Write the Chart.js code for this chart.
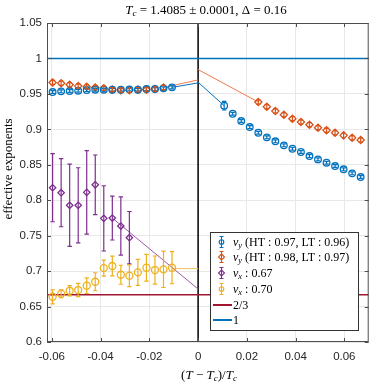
<!DOCTYPE html>
<html>
<head>
<meta charset="utf-8">
<script src="https://cdn.jsdelivr.net/npm/chart.js@4/dist/chart.umd.min.js"></script>
<style>
  body { margin: 0; background: #fff; }
  #wrap { width: 374px; height: 383px; }
</style>
</head>
<body>
<div id="wrap"><canvas id="myExponents" width="374" height="383"></canvas></div>
<script>
// reduced temperature (T - Tc)/Tc, below and above Tc
const tLeft = [-0.0597, -0.0562, -0.0527, -0.0492, -0.0457, -0.0422, -0.0387, -0.0352, -0.0317, -0.0282, -0.0247, -0.0212, -0.0177, -0.0142, -0.0107];
const tRight = [0.0107, 0.0142, 0.0177, 0.0212, 0.0247, 0.0282, 0.0317, 0.0352, 0.0387, 0.0422, 0.0457, 0.0492, 0.0527, 0.0562, 0.0597, 0.0632, 0.0667];

// nu_y (HT : 0.97, LT : 0.96)
const nuyBlueLeft = [0.9526, 0.9536, 0.954, 0.9545, 0.9554, 0.9559, 0.9559, 0.9559, 0.9559, 0.9564, 0.9559, 0.9568, 0.9568, 0.9578, 0.9592];
const nuyBlueRight = [0.9333, 0.922, 0.9117, 0.9032, 0.8952, 0.8887, 0.8831, 0.8774, 0.8726, 0.868, 0.8623, 0.8576, 0.8529, 0.8482, 0.8436, 0.8379, 0.8327];
const nuyBlueErrLeft = [0.002, 0.002, 0.002, 0.002, 0.002, 0.002, 0.002, 0.002, 0.002, 0.002, 0.002, 0.002, 0.002, 0.002, 0.002];
const nuyBlueErrRight = [0.006, 0.002, 0.002, 0.002, 0.002, 0.002, 0.002, 0.002, 0.002, 0.002, 0.002, 0.002, 0.002, 0.002, 0.002, 0.002, 0.002];

// nu_y (HT : 0.98, LT : 0.97)
const nuyOrangeLeft = [0.966, 0.965, 0.963, 0.961, 0.960, 0.959, 0.958, 0.956, 0.955, 0.955, 0.956, 0.956, 0.957, 0.959];
const nuyOrangeRight = [0.9385, 0.9319, 0.9258, 0.9206, 0.915, 0.9103, 0.9065, 0.9023, 0.8986, 0.8952, 0.8915, 0.8881, 0.8849];
const nuyOrangeErr = 0.003;

// nu_x : 0.67
const nuxPurple = [0.8176, 0.8106, 0.7928, 0.7928, 0.8111, 0.8218, 0.7744, 0.7749, 0.7636, 0.7471];
const nuxPurpleErr = [0.048, 0.048, 0.058, 0.053, 0.059, 0.042, 0.046, 0.031, 0.041, 0.037];

// nu_x : 0.70
const nuxYellow = [0.6638, 0.6681, 0.6723, 0.6733, 0.6794, 0.685, 0.7043, 0.7072, 0.6949, 0.6935, 0.6983, 0.7048, 0.7015, 0.7025, 0.7048];
const nuxYellowErr = [0.0099, 0.0056, 0.0073, 0.0094, 0.011, 0.0127, 0.0113, 0.0139, 0.0134, 0.0153, 0.0183, 0.0188, 0.0198, 0.0256, 0.0226];

// fitted lines [t, value]
const fitBlueLeft = [[-0.0107, 0.9592], [0, 0.9655]];
const fitBlueRight = [[0, 0.9665], [0.0107, 0.9333]];
const fitOrangeLeft = [[-0.0142, 0.959], [0, 0.9697]];
const fitOrangeRight = [[0, 0.9843], [0.0247, 0.9385]];
const fitPurple = [[-0.0352, 0.7749], [0, 0.6747]];
const fitYellow = [[-0.0107, 0.7035], [0, 0.7035]];

const xTicks = [-0.06, -0.04, -0.02, 0, 0.02, 0.04, 0.06];
const yTicks = [0.6, 0.65, 0.7, 0.75, 0.8, 0.85, 0.9, 0.95, 1, 1.05];
const xMin = -0.062, xMax = 0.07, yMin = 0.6, yMax = 1.05;

const BLUE = '#0072BD', ORANGE = '#D95319', YELLOW = '#EDB120', PURPLE = '#7E2F8E', RED = '#A2142F';

function pts(xs, ys) {
    return ys.map((y, i) => ({ x: xs[i], y: y }));
}
function fitPts(arr) {
    return arr.map(p => ({ x: p[0], y: p[1] }));
}
function marks(data, color, style, radius, errors) {
    return {
        type: 'scatter', data: data, errors: errors,
        pointStyle: style, pointRadius: radius, pointBorderWidth: 1.3,
        borderColor: color, backgroundColor: 'rgba(255,255,255,0)', showLine: false
    };
}
function line(data, color, width) {
    return {
        type: 'line', data: data, borderColor: color, borderWidth: width,
        pointRadius: 0, fill: false, tension: 0
    };
}
function fill(v, n) { return new Array(n).fill(v); }

const errorBars = {
    id: 'errorBars',
    afterDatasetsDraw(chart) {
        const ctx = chart.ctx;
        const ys = chart.scales.y;
        ctx.save();
        chart.data.datasets.forEach((ds, i) => {
            if (!ds.errors) return;
            const meta = chart.getDatasetMeta(i);
            ctx.strokeStyle = ds.borderColor;
            ctx.lineWidth = 1.2;
            meta.data.forEach((el, j) => {
                const e = ds.errors[j];
                const y1 = ys.getPixelForValue(ds.data[j].y - e);
                const y2 = ys.getPixelForValue(ds.data[j].y + e);
                ctx.beginPath();
                ctx.moveTo(el.x, y1); ctx.lineTo(el.x, y2);
                ctx.moveTo(el.x - 2.2, y1); ctx.lineTo(el.x + 2.2, y1);
                ctx.moveTo(el.x - 2.2, y2); ctx.lineTo(el.x + 2.2, y2);
                ctx.stroke();
            });
        });
        ctx.restore();
    }
};

function drawPieces(ctx, pieces, x, y, align) {
    // pieces: [text, font, dy]
    let total = 0;
    pieces.forEach(p => { ctx.font = p[1]; total += ctx.measureText(p[0]).width; });
    let cx = align === 'center' ? x - total / 2 : x;
    pieces.forEach(p => {
        ctx.font = p[1];
        ctx.fillText(p[0], cx, y + (p[2] || 0));
        cx += ctx.measureText(p[0]).width;
    });
}

const SERIF = '"Liberation Serif", "DejaVu Serif", serif';

const frame = {
    id: 'frame',
    beforeDatasetsDraw(chart) {
        const { ctx, chartArea: a } = chart;
        ctx.save();
        // black vertical line at Tc
        const x0 = chart.scales.x.getPixelForValue(0);
        ctx.strokeStyle = '#000';
        ctx.lineWidth = 1.5;
        ctx.beginPath(); ctx.moveTo(x0, a.top); ctx.lineTo(x0, a.bottom); ctx.stroke();
        ctx.restore();
    },
    afterDraw(chart) {
        const { ctx, chartArea: a } = chart;
        const xs = chart.scales.x, ys = chart.scales.y;
        ctx.save();
        // axes box and inward ticks
        ctx.strokeStyle = '#4d4d4d';
        ctx.lineWidth = 1;
        ctx.strokeRect(a.left + 0.5, a.top + 0.5, a.right - a.left - 1, a.bottom - a.top - 1);
        ctx.beginPath();
        xTicks.forEach(v => {
            const px = Math.round(xs.getPixelForValue(v)) + 0.5;
            ctx.moveTo(px, a.bottom); ctx.lineTo(px, a.bottom - 4);
            ctx.moveTo(px, a.top); ctx.lineTo(px, a.top + 4);
        });
        yTicks.forEach(v => {
            const py = Math.round(ys.getPixelForValue(v)) + 0.5;
            ctx.moveTo(a.left, py); ctx.lineTo(a.left + 4, py);
            ctx.moveTo(a.right, py); ctx.lineTo(a.right - 4, py);
        });
        ctx.stroke();

        ctx.fillStyle = '#000';
        ctx.textBaseline = 'alphabetic';
        ctx.textAlign = 'left';
        // title
        drawPieces(ctx, [
            ['T', 'italic 13px ' + SERIF],
            ['c', 'italic 9px ' + SERIF, 2],
            [' = 1.4085 \u00b1 0.0001, \u0394 = 0.16', '13px ' + SERIF]
        ], 206, 14, 'center');
        // x label
        drawPieces(ctx, [
            ['(', '13px ' + SERIF],
            ['T', 'italic 13px ' + SERIF],
            [' \u2212 ', '13px ' + SERIF],
            ['T', 'italic 13px ' + SERIF],
            ['c', 'italic 9px ' + SERIF, 2],
            [')/', '13px ' + SERIF],
            ['T', 'italic 13px ' + SERIF],
            ['c', 'italic 9px ' + SERIF, 2]
        ], 209, 379, 'center');
        // y label
        ctx.save();
        ctx.translate(12, 169);
        ctx.rotate(-Math.PI / 2);
        ctx.font = '13px ' + SERIF;
        ctx.textAlign = 'center';
        ctx.fillText('effective exponents', 0, 0);
        ctx.restore();

        // legend
        const L = { x: 210.5, y: 232.5, w: 148, h: 98 };
        ctx.fillStyle = '#fff';
        ctx.fillRect(L.x, L.y, L.w, L.h);
        ctx.strokeStyle = '#333';
        ctx.strokeRect(L.x, L.y, L.w, L.h);
        const rows = [
            { c: BLUE, m: 'circle', sub: 'y', txt: ' (HT : 0.97, LT : 0.96)' },
            { c: ORANGE, m: 'diamond', sub: 'y', txt: ' (HT : 0.98, LT : 0.97)' },
            { c: PURPLE, m: 'diamond', sub: 'x', txt: ' : 0.67' },
            { c: YELLOW, m: 'circle', sub: 'x', txt: ' : 0.70' },
            { c: RED, line: true, txt: '2/3' },
            { c: BLUE, line: true, txt: '1' }
        ];
        const rowY = [242, 257, 273, 289, 305, 320];
        rows.forEach((r, i) => {
            const y = rowY[i];
            ctx.strokeStyle = r.c;
            if (r.line) {
                ctx.lineWidth = 2;
                ctx.beginPath(); ctx.moveTo(213, y); ctx.lineTo(232, y); ctx.stroke();
                ctx.fillStyle = '#000';
                drawPieces(ctx, [[r.txt, '12px ' + SERIF]], 233, y + 4, 'left');
                return;
            }
            const mx = 221.5;
            ctx.lineWidth = 1.1;
            ctx.beginPath();
            ctx.moveTo(mx, y - 5.5); ctx.lineTo(mx, y + 5.5);
            ctx.moveTo(mx - 2, y - 5.5); ctx.lineTo(mx + 2, y - 5.5);
            ctx.moveTo(mx - 2, y + 5.5); ctx.lineTo(mx + 2, y + 5.5);
            ctx.stroke();
            ctx.beginPath();
            if (r.m === 'circle') {
                ctx.arc(mx, y, 2.3, 0, Math.PI * 2);
            } else {
                ctx.moveTo(mx, y - 3); ctx.lineTo(mx + 3, y); ctx.lineTo(mx, y + 3); ctx.lineTo(mx - 3, y); ctx.closePath();
            }
            ctx.stroke();
            ctx.fillStyle = '#000';
            drawPieces(ctx, [
                ['\u03bd', 'italic 12px ' + SERIF],
                [r.sub, 'italic 8.5px ' + SERIF, 2],
                [r.txt, '12px ' + SERIF]
            ], 233, y + 4, 'left');
        });
        ctx.restore();
    }
};

const el = document.getElementById('myExponents');
if (el) {
    new Chart(el, {
        data: {
            datasets: [
                marks(pts(tLeft, nuyBlueLeft), BLUE, 'circle', 3.3, nuyBlueErrLeft),
                marks(pts(tRight, nuyBlueRight), BLUE, 'circle', 3.3, nuyBlueErrRight),
                marks(pts(tLeft, nuyOrangeLeft), ORANGE, 'rectRot', 3.6, fill(nuyOrangeErr, nuyOrangeLeft.length)),
                marks(pts(tRight.slice(4), nuyOrangeRight), ORANGE, 'rectRot', 3.6, fill(nuyOrangeErr, nuyOrangeRight.length)),
                marks(pts(tLeft, nuxPurple), PURPLE, 'rectRot', 3.2, nuxPurpleErr),
                marks(pts(tLeft, nuxYellow), YELLOW, 'circle', 3.5, nuxYellowErr),
                line(fitPts(fitBlueLeft), BLUE, 1),
                line(fitPts(fitBlueRight), BLUE, 1),
                line(fitPts(fitOrangeLeft), '#F07A4A', 1),
                line(fitPts(fitOrangeRight), '#F07A4A', 1),
                line(fitPts(fitPurple), '#9B59AB', 1),
                line(fitPts(fitYellow), '#F2C35E', 1),
                line([{ x: xMin, y: 2 / 3 }, { x: xMax, y: 2 / 3 }], RED, 1.6),
                line([{ x: xMin, y: 1 }, { x: xMax, y: 1 }], BLUE, 1.6)
            ]
        },
        options: {
            responsive: false,
            animation: false,
            layout: { padding: { top: 23, right: 3, left: 0, bottom: 0 } },
            plugins: { legend: { display: false }, title: { display: false }, tooltip: { enabled: false } },
            scales: {
                x: {
                    type: 'linear', min: xMin, max: xMax,
                    afterBuildTicks: s => { s.ticks = xTicks.map(v => ({ value: v })); },
                    afterFit: s => { s.height = 41; },
                    grid: { color: '#e8e8e8', drawTicks: false },
                    border: { display: false },
                    ticks: {
                        padding: 8, color: '#262626',
                        font: { family: '"Liberation Sans", Arial, sans-serif', size: 11.5 },
                        callback: v => String(+v.toFixed(2)), maxRotation: 0
                    }
                },
                y: {
                    type: 'linear', min: yMin, max: yMax,
                    afterBuildTicks: s => { s.ticks = yTicks.map(v => ({ value: v })); },
                    afterFit: s => { s.width = 47; },
                    grid: { color: '#e8e8e8', drawTicks: false },
                    border: { display: false },
                    ticks: {
                        padding: 5, color: '#262626',
                        font: { family: '"Liberation Sans", Arial, sans-serif', size: 11.5 },
                        callback: v => String(+v.toFixed(2))
                    }
                }
            }
        },
        plugins: [errorBars, frame]
    });
}
</script>
</body>
</html>
